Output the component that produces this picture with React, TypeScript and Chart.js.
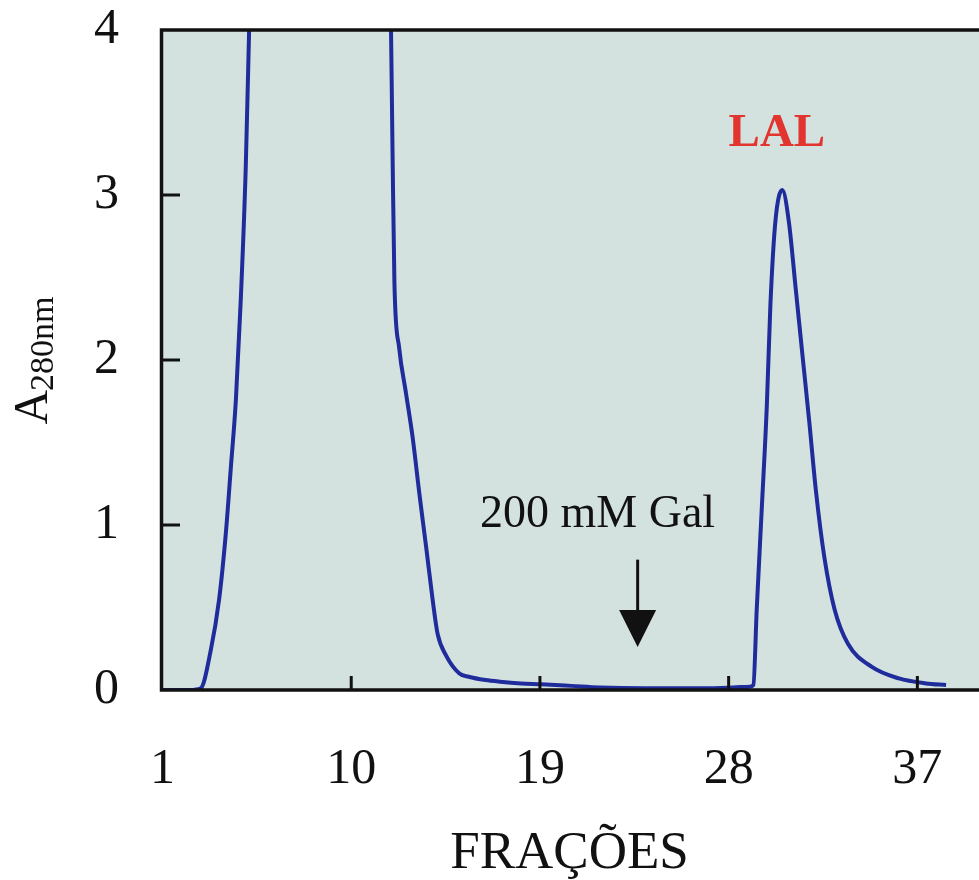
import { useEffect, useRef } from "react";
import { Chart, registerables } from "chart.js";

Chart.register(...registerables);

// Fraction number (x) and absorbance at 280 nm (y).
// Values above 4 are off-scale (clipped by the plot frame).
const FRACTION = [
  1, 2.3, 2.82, 3.3, 3.7, 4.02, 4.26, 4.5, 4.73, 4.97, 5.13, 5.6,
  11.5, 11.9, 11.97, 12.06, 12.29, 12.61, 12.93, 13.25, 13.57, 13.88, 14.12, 14.52,
  15.16, 15.6, 16.4, 17.1, 18.1, 19.06, 20.5, 21.85, 24, 26.6, 28.2, 29.0, 29.18,
  29.34, 29.58, 29.82, 29.99, 30.23, 30.56, 30.87, 31.2, 31.52, 31.85, 32.16,
  32.57, 33.05, 33.69, 34.83, 36.12, 37.41, 38.37,
];
const A280 = [
  0, 0, 0.01, 0.24, 0.55, 0.95, 1.35, 1.76, 2.36, 3.17, 4.0, 6.5,
  6.5, 3.98, 3.26, 2.47, 2.07, 1.8, 1.53, 1.19, 0.87, 0.55, 0.34, 0.21,
  0.1, 0.08, 0.06, 0.05, 0.04, 0.035, 0.025, 0.015, 0.01, 0.01, 0.015, 0.02, 0.03,
  0.49, 1.1, 1.72, 2.33, 2.84, 3.03, 2.84, 2.43, 2.03, 1.62, 1.21,
  0.8, 0.49, 0.28, 0.14, 0.07, 0.04, 0.03,
];

const X_TICKS = [1, 10, 19, 28, 37];
const Y_TICKS = [0, 1, 2, 3, 4];
const X_MIN = 0.88;
const X_MAX = 39.94;
const Y_MIN = 0;
const Y_MAX = 4;

const X_TITLE = "FRAÇÕES";
const Y_TITLE_MAIN = "A";
const Y_TITLE_SUB = "280nm";

const GAL_LABEL = "200 mM Gal";
const GAL_LABEL_X = 21.75;
const GAL_LABEL_Y = 0.99;
const GAL_ARROW_X = 23.66;
const GAL_ARROW_TOP = 0.79;
const GAL_ARROW_TIP = 0.26;

const PEAK_LABEL = "LAL";
const PEAK_LABEL_X = 30.3;
const PEAK_LABEL_Y = 3.37;

const SERIF = "'Liberation Serif', 'Times New Roman', serif";
const LINE_COLOR = "#1f2c9c";
const BG_COLOR = "#d4e2df";
const FRAME_COLOR = "#111111";
const LABEL_RED = "#e2352f";

const framePlugin = {
  id: "framePlugin",
  beforeDatasetsDraw(chart: any) {
    const { ctx, chartArea: a } = chart;
    ctx.save();
    ctx.fillStyle = BG_COLOR;
    ctx.fillRect(a.left, a.top, a.right - a.left, a.bottom - a.top);
    ctx.restore();
  },
  afterDatasetsDraw(chart: any) {
    const { ctx, chartArea: a, scales } = chart;
    const xs = scales.x;
    const ys = scales.y;
    ctx.save();
    // frame (top, left, bottom)
    ctx.strokeStyle = FRAME_COLOR;
    ctx.lineWidth = 3.5;
    ctx.lineJoin = "miter";
    ctx.beginPath();
    ctx.moveTo(a.right + 4, a.top);
    ctx.lineTo(a.left + 1.5, a.top);
    ctx.lineTo(a.left + 1.5, a.bottom);
    ctx.lineTo(a.right + 4, a.bottom);
    ctx.stroke();

    // inward tick marks
    ctx.lineWidth = 3;
    Y_TICKS.forEach((v) => {
      if (v === Y_MIN || v === Y_MAX) return;
      const py = ys.getPixelForValue(v);
      ctx.beginPath();
      ctx.moveTo(a.left, py);
      ctx.lineTo(a.left + 20, py);
      ctx.stroke();
    });
    X_TICKS.forEach((v) => {
      const px = xs.getPixelForValue(v);
      if (px - a.left < 8) return;
      ctx.beginPath();
      ctx.moveTo(px, a.bottom);
      ctx.lineTo(px, a.bottom - 14);
      ctx.stroke();
    });

    // "200 mM Gal" label + arrow
    ctx.fillStyle = "#111111";
    ctx.font = `46px ${SERIF}`;
    ctx.textAlign = "center";
    ctx.textBaseline = "alphabetic";
    ctx.fillText(GAL_LABEL, xs.getPixelForValue(GAL_LABEL_X), ys.getPixelForValue(GAL_LABEL_Y));

    const ax = xs.getPixelForValue(GAL_ARROW_X);
    const aTop = ys.getPixelForValue(GAL_ARROW_TOP);
    const aTip = ys.getPixelForValue(GAL_ARROW_TIP);
    const headLen = 37;
    const headHalf = 18.5;
    ctx.strokeStyle = "#111111";
    ctx.lineWidth = 3;
    ctx.beginPath();
    ctx.moveTo(ax, aTop);
    ctx.lineTo(ax, aTip - headLen + 2);
    ctx.stroke();
    ctx.beginPath();
    ctx.moveTo(ax - headHalf, aTip - headLen);
    ctx.lineTo(ax + headHalf, aTip - headLen);
    ctx.lineTo(ax, aTip);
    ctx.closePath();
    ctx.fill();

    // "LAL" label
    ctx.fillStyle = LABEL_RED;
    ctx.font = `bold 47px ${SERIF}`;
    ctx.textAlign = "center";
    ctx.textBaseline = "middle";
    ctx.fillText(PEAK_LABEL, xs.getPixelForValue(PEAK_LABEL_X), ys.getPixelForValue(PEAK_LABEL_Y));

    // Y title: A with subscript 280nm, rotated
    const cy = (a.top + a.bottom) / 2;
    ctx.fillStyle = "#111111";
    ctx.textAlign = "left";
    ctx.textBaseline = "alphabetic";
    ctx.translate(47, cy);
    ctx.rotate(-Math.PI / 2);
    const mainFont = `48px ${SERIF}`;
    const subFont = `34px ${SERIF}`;
    ctx.font = mainFont;
    const wMain = ctx.measureText(Y_TITLE_MAIN).width;
    ctx.font = subFont;
    const wSub = ctx.measureText(Y_TITLE_SUB).width;
    const start = -(wMain + wSub) / 2;
    ctx.font = mainFont;
    ctx.fillText(Y_TITLE_MAIN, start, 0);
    ctx.font = subFont;
    ctx.fillText(Y_TITLE_SUB, start + wMain - 1, 6);
    ctx.restore();
  },
};

export default function App() {
  const canvasRef = useRef<HTMLCanvasElement | null>(null);

  useEffect(() => {
    const canvas = canvasRef.current;
    if (!canvas) return;
    const points = FRACTION.map((f, i) => ({ x: f, y: A280[i] }));
    const chart = new Chart(canvas, {
      type: "line",
      data: {
        datasets: [
          {
            label: "A280nm",
            data: points,
            borderColor: LINE_COLOR,
            borderWidth: 4,
            pointRadius: 0,
            fill: false,
            cubicInterpolationMode: "monotone",
          },
        ],
      },
      options: {
        responsive: false,
        animation: false,
        events: [],
        layout: { padding: { top: 30, left: 0, right: 0, bottom: 0 } },
        plugins: {
          legend: { display: false },
          tooltip: { enabled: false },
          title: { display: false },
        },
        scales: {
          x: {
            type: "linear",
            min: X_MIN,
            max: X_MAX,
            grid: { display: false, drawTicks: false },
            border: { display: false },
            afterBuildTicks: (scale: any) => {
              scale.ticks = X_TICKS.map((v) => ({ value: v }));
            },
            afterFit: (scale: any) => {
              scale.height = 190;
              scale.paddingLeft = 0;
              scale.paddingRight = 0;
            },
            ticks: {
              autoSkip: false,
              maxRotation: 0,
              padding: 50,
              color: "#111111",
              font: { family: SERIF, size: 50 },
              callback: (v: any) => String(v),
            },
            title: {
              display: true,
              text: X_TITLE,
              color: "#111111",
              font: { family: SERIF, size: 53, lineHeight: 0.96 },
              padding: { top: 0, bottom: 0 },
            },
          },
          y: {
            type: "linear",
            min: Y_MIN,
            max: Y_MAX,
            grid: { display: false, drawTicks: false },
            border: { display: false },
            afterBuildTicks: (scale: any) => {
              scale.ticks = Y_TICKS.map((v) => ({ value: v }));
            },
            afterFit: (scale: any) => {
              scale.width = 160;
              scale.paddingTop = 0;
              scale.paddingBottom = 0;
            },
            ticks: {
              padding: 41,
              color: "#111111",
              font: { family: SERIF, size: 50 },
              callback: (v: any) => String(v),
            },
          },
        },
      },
      plugins: [framePlugin],
    });
    return () => chart.destroy();
  }, []);

  return (
    <div style={{ position: "fixed", left: 0, top: 0, width: 979, height: 880, background: "#ffffff" }}>
      <canvas ref={canvasRef} width={979} height={880} style={{ display: "block" }} />
    </div>
  );
}
